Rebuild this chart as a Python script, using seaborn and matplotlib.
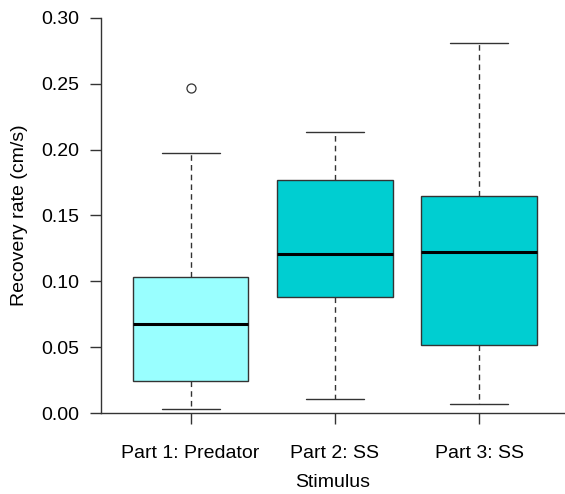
import pandas as pd
import matplotlib
matplotlib.use('Agg')
import matplotlib.pyplot as plt
import seaborn as sns

# Summary values (whisker low, Q1, median, Q3, whisker high, outliers)
stimulus = ['Part 1: Predator', 'Part 2: SS', 'Part 3: SS']
part1 = [0.003, 0.0243, 0.0243, 0.0673, 0.0673, 0.1033, 0.1033, 0.1974, 0.2468]
part2 = [0.0106, 0.0883, 0.121, 0.1772, 0.2136]
part3 = [0.0071, 0.0516, 0.1222, 0.1648, 0.2812]
box_colors = ['#99FFFF', '#00CED1', '#00CED1']

rows = []
for name, vals in zip(stimulus, [part1, part2, part3]):
    for v in vals:
        rows.append({'Stimulus': name, 'rate': v})
df = pd.DataFrame(rows)

sns.set_style('white')
plt.rcParams['font.family'] = ['Liberation Sans', 'DejaVu Sans']
plt.rcParams['text.color'] = 'black'

line_col = '#333333'
fig = plt.figure(figsize=(5.65, 4.94), dpi=100)
ax = fig.add_axes([101 / 565, 1 - 413 / 494, 464 / 565, 395 / 494])

sns.boxplot(data=df, x='Stimulus', y='rate', hue='Stimulus', palette=box_colors,
            order=stimulus, width=0.8, whis=1.5, legend=False, ax=ax, saturation=1,
            linecolor=line_col, linewidth=1,
            boxprops=dict(edgecolor=line_col, linewidth=1),
            whiskerprops=dict(color=line_col, linestyle=(0, (4, 3)), linewidth=1),
            capprops=dict(color=line_col, linewidth=1),
            medianprops=dict(color='black', linewidth=2.2),
            flierprops=dict(marker='o', markerfacecolor='white', markeredgecolor=line_col,
                            markersize=6.5, markeredgewidth=0.9),
            capwidths=0.4)

ax.set_ylim(0, 0.30)
ax.set_xlim(-0.622, 2.596)
ax.set_yticks([0.0, 0.05, 0.10, 0.15, 0.20, 0.25, 0.30])
ax.set_yticklabels(['0.00', '0.05', '0.10', '0.15', '0.20', '0.25', '0.30'])
ax.set_ylabel('Recovery rate (cm/s)', fontsize=14, labelpad=9, color='black')
ax.set_xlabel('Stimulus', fontsize=14, labelpad=9, color='black')

for side in ['top', 'right']:
    ax.spines[side].set_visible(False)
for side in ['left', 'bottom']:
    ax.spines[side].set_color(line_col)
    ax.spines[side].set_linewidth(1)
ax.tick_params(axis='both', direction='out', length=8, width=1, color=line_col,
               labelsize=14, pad=8, left=True, bottom=True, labelcolor='black')
ax.tick_params(axis='x', pad=15)

fig.savefig('out.png', dpi=100)
